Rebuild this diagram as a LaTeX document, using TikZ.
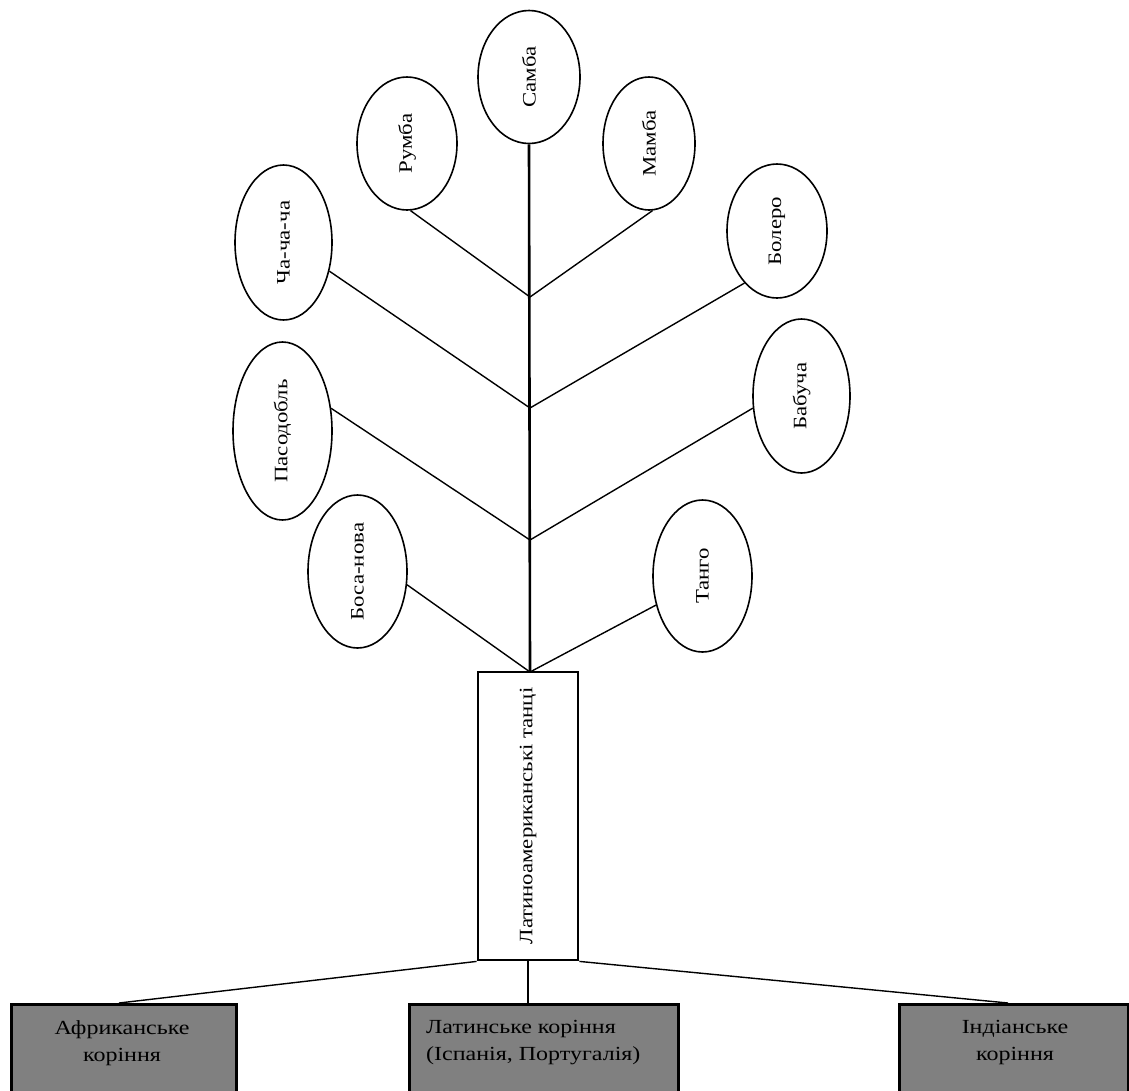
\documentclass[tikz,border=0pt]{standalone}
\usepackage{fontspec}
\setmainfont{Liberation Serif}[FakeStretch=1.2]
\usetikzlibrary{shapes.geometric}
\definecolor{boxgray}{RGB}{128,128,128}
\begin{document}
\begin{tikzpicture}[x=1pt,y=-1pt,
  dance/.style={ellipse, draw, line width=1.6pt, inner sep=0pt,
    font=\fontsize{19}{22}\selectfont},
  branch/.style={line width=1.4pt},
  trunk/.style={line width=2.6pt},
  mainbox/.style={draw, line width=2.8pt, inner sep=0pt,
    minimum width=100pt, minimum height=288pt,
    font=\fontsize{19}{22}\selectfont},
  rootbox/.style={draw, line width=2.8pt, fill=boxgray, anchor=north west, inner sep=0pt},
  roottext/.style={font=\fontsize{20}{27}\selectfont, inner sep=0pt, anchor=north}
]
\useasboundingbox (0,0) rectangle (1129,1090);

% dance ellipses
\node[dance, minimum width=102pt, minimum height=133pt] (samba) at (529,77) {\rotatebox{90}{Самба}};
\node[dance, minimum width=100pt, minimum height=133pt] (rumba) at (407,143.5) {\rotatebox{90}{Румба}};
\node[dance, minimum width=92pt, minimum height=133pt] (mamba) at (649,143.5) {\rotatebox{90}{Мамба}};
\node[dance, minimum width=97pt, minimum height=155pt] (chacha) at (283.5,242.5) {\rotatebox{90}{Ча-ча-ча}};
\node[dance, minimum width=100pt, minimum height=134pt] (bolero) at (777,231) {\rotatebox{90}{Болеро}};
\node[dance, minimum width=99pt, minimum height=178pt] (paso) at (282.5,431) {\rotatebox{90}{Пасодобль}};
\node[dance, minimum width=97pt, minimum height=154pt] (babucha) at (801.5,396) {\rotatebox{90}{Бабуча}};
\node[dance, minimum width=99pt, minimum height=153pt] (bosa) at (357.5,571.5) {\rotatebox{90}{Боса-нова}};
\node[dance, minimum width=99pt, minimum height=152pt] (tango) at (702.5,576) {\rotatebox{90}{Танго}};

% central box
\node[mainbox] (lat) at (528,816) {\rotatebox{90}{Латиноамериканські танці}};

% junctions
\coordinate (j1) at (530,297);
\coordinate (j2) at (530,408);
\coordinate (j3) at (530,540);
\coordinate (j4) at (530,672);

% trunk
\draw[trunk] (samba.south) -- (j4);

% branches
\draw[branch] (rumba.-87) -- (j1);
\draw[branch] (mamba.-87) -- (j1);
\draw[branch] (chacha.-32) -- (j2);
\draw[branch] (bolero.238) -- (j2);
\draw[branch] (paso.25) -- (j3);
\draw[branch] (babucha.194) -- (j3);
\draw[branch] (bosa.-15) -- (j4);
\draw[branch] (tango.212) -- (j4);

% root boxes
\node[rootbox, minimum width=225pt, minimum height=110pt] (afr) at (10,1003) {};
\node[rootbox, minimum width=269pt, minimum height=110pt] (lt) at (408,1003) {};
\node[rootbox, minimum width=229pt, minimum height=110pt] (ind) at (898,1003) {};

\node[roottext, align=center] (afrt) at (122,1020) {Африканське\\коріння};
\node[roottext, align=left, anchor=north west] (ltt) at (426,1020) {Латинське коріння\\(Іспанія, Португалія)};
\node[roottext, align=center] (indt) at (1015,1020) {Індіанське\\коріння};

% root connectors
\coordinate (afrtop) at (119,1003);
\coordinate (indtop) at (1008,1003);
\draw[branch] (lat.south west) -- (afrtop);
\draw[branch] (lat.south) -- (lt.north west -| lat.south);
\draw[branch] (lat.south east) -- (indtop);
\end{tikzpicture}
\end{document}
